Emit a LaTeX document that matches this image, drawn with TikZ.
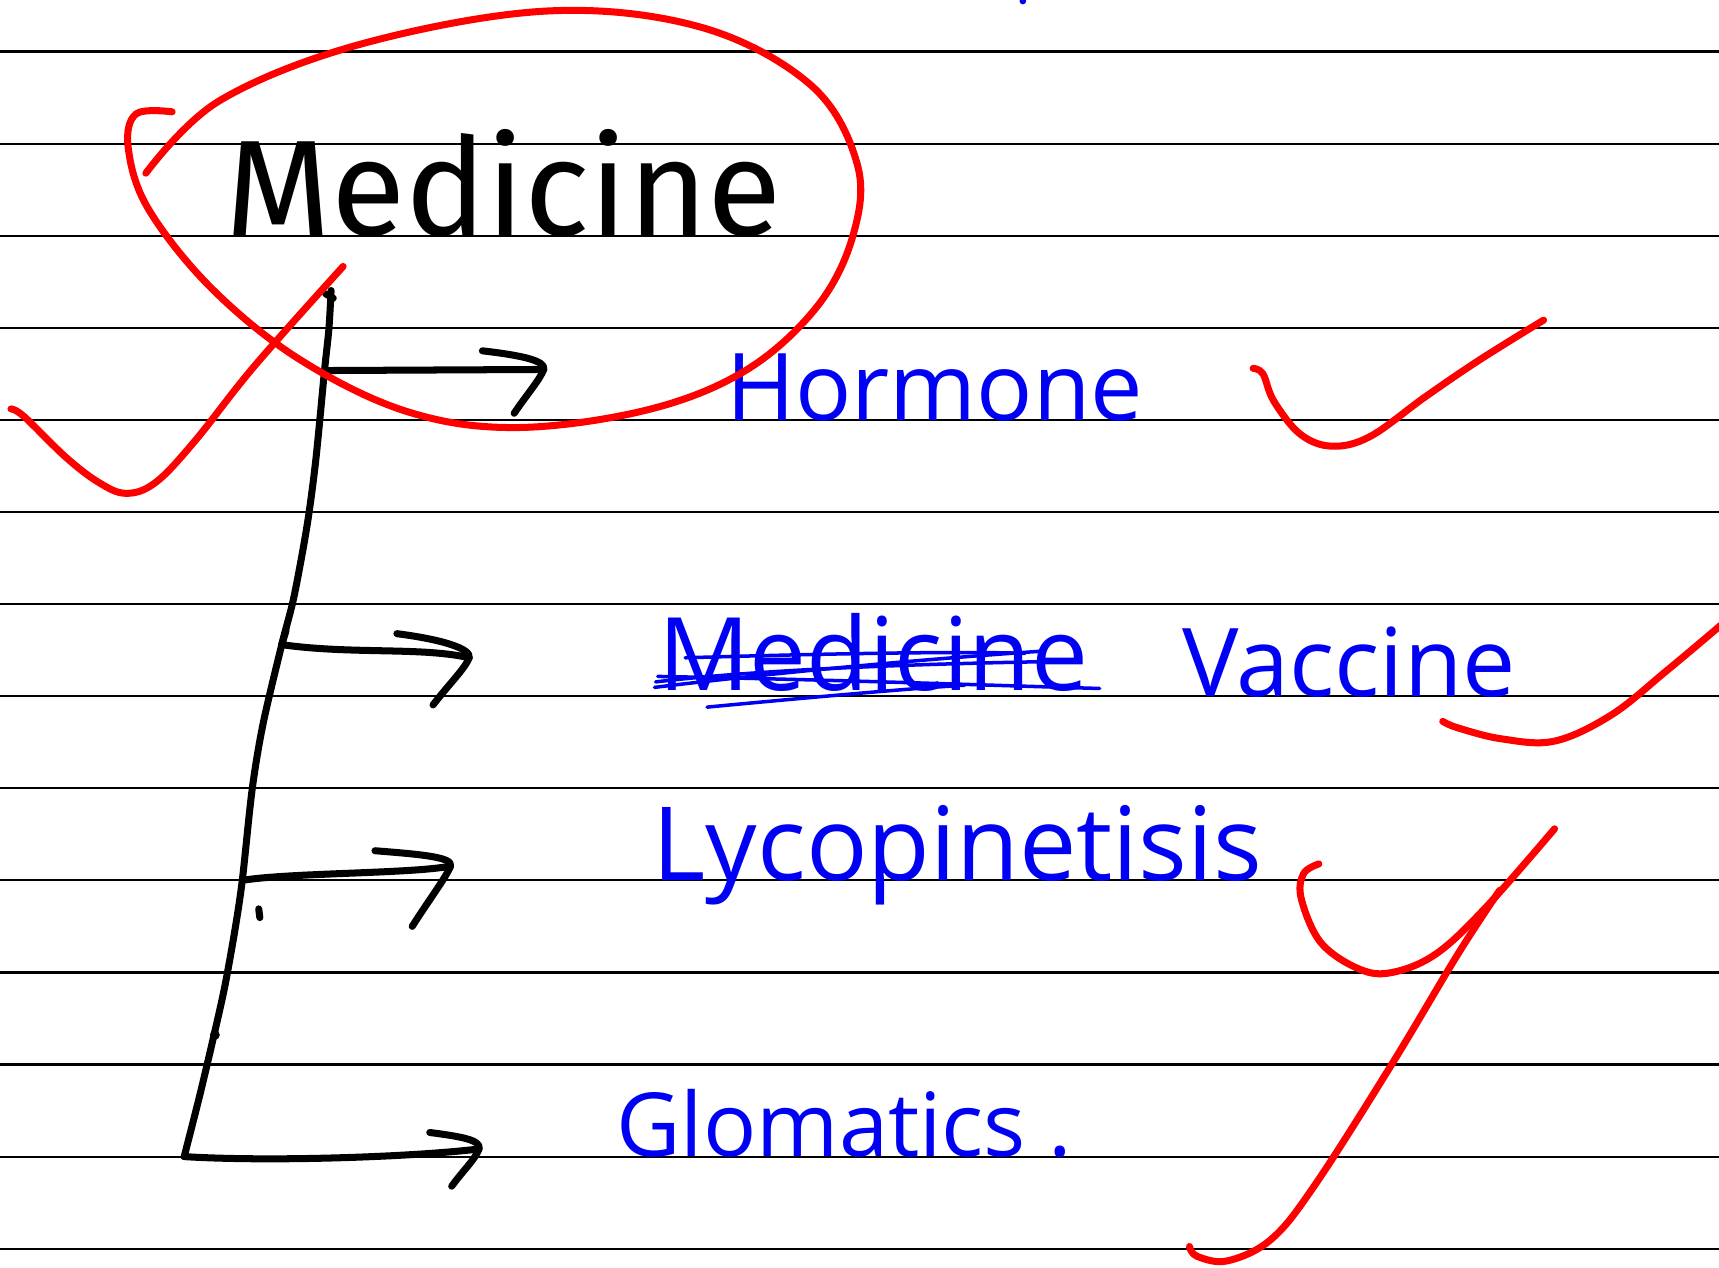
\documentclass[tikz,border=0pt]{standalone}
\usepackage{fontspec}
\setmainfont{Fira Sans}
\newfontfamily\inkblack{Fira Sans}
\newfontfamily\inkblue{Open Sans}
\usetikzlibrary{calc}
\definecolor{penred}{RGB}{255,0,0}
\definecolor{penblue}{RGB}{0,0,245}
\newcommand\fitw[2]{\resizebox{#1}{!}{#2}}
\newcommand\arrhook[5]{\draw[conn] ($(#1)+(#2,#3)$) .. controls ($(#1)+({0.35*(#2)},{0.75*(#3)})$) and ($(#1)+(2,-8)$) .. (#1) .. controls ($(#1)+(-4,10)$) and ($(#1)+({0.55*(#4)},{0.55*(#5)})$) .. ($(#1)+(#4,#5)$);}
\begin{document}
\begin{tikzpicture}[x=0.5pt,y=-0.5pt,
  rule/.style={line width=1pt,black},
  conn/.style={line width=3.2pt,black,line cap=round,line join=round},
  redink/.style={line width=3.2pt,penred,line cap=round,line join=round},
  blueink/.style={line width=1.6pt,penblue,line cap=round},
  bluetext/.style={anchor=base west,inner sep=0pt,text=penblue,font=\inkblue},
  blacktext/.style={anchor=base west,inner sep=0pt,text=black,font=\inkblack}]
\useasboundingbox (0,0) rectangle (1568,1156);
\fill[white] (0,0) rectangle (1568,1156);
% ruled paper
\foreach \yy in {47,131,215,299,383,467,551,635,719,803,887,971,1055,1139}
  \draw[rule] (0,\yy) -- (1568,\yy);
% texts
\node[blacktext] (title) at (205,215) {\fitw{254pt}{Medicine}};
\node[bluetext] (hormone) at (662,384) {\fitw{190pt}{Hormone}};
\node[bluetext] (struck) at (600,630) {\fitw{196pt}{Medicine}};
\node[bluetext] (vaccine) at (1078,635) {\fitw{152pt}{Vaccine}};
\node[bluetext] (lyco) at (595,803) {\fitw{278pt}{Lycopinetisis}};
\node[bluetext] (gloma) at (562,1055) {\fitw{208pt}{Glomatics .}};
% strike-out of the second word
\draw[blueink] (597,627) .. controls (720,612) and (860,600) .. (950,594);
\draw[blueink] (625,600) .. controls (760,596) and (880,594) .. (935,596);
\draw[blueink] (600,617) .. controls (760,620) and (900,625) .. (1003,628);
\draw[blueink] (645,645) .. controls (740,636) and (830,628) .. (880,625);
\draw[blueink] (598,622) .. controls (700,610) and (850,605) .. (985,603);
\fill[penblue] (933,1) circle (3);
% connector tree
\coordinate (top) at (302,265);
\coordinate (j1) at (296,338);
\coordinate (j2) at (257,588);
\coordinate (j3) at (221,803);
\coordinate (bot) at (168,1055);
\coordinate (a1) at (496,337);
\coordinate (a2) at (428,600);
\coordinate (a3) at (411,790);
\coordinate (a4) at (437,1048);
\draw[conn] plot[smooth,tension=0.5] coordinates {(top) (300,300) (j1) (288,420) (280,480) (268,545) (j2) (240,660) (230,720) (j3) (214,850) (205,900) (195,945) (182,1000) (bot)};
\draw[conn] (297,268) -- (304,272);
\draw[conn] (j1) -- (a1);
\draw[conn] (j2) .. controls (320,597) and (385,590) .. (a2);
\draw[conn] (j2) -- ++(4,-13);
\draw[conn] (j3) .. controls (265,796) and (375,797) .. (a3);
\draw[conn] (bot) .. controls (250,1060) and (380,1055) .. (a4);
\arrhook{a1}{-56}{-17}{-27}{40}
\arrhook{a2}{-66}{-22}{-33}{43}
\arrhook{a3}{-69}{-14}{-35}{55}
\arrhook{a4}{-45}{-15}{-25}{34}
\draw[conn] (236,829) -- (237,837);
\fill (196,944) circle (4.5);
% red marks
\draw[redink] plot[smooth,tension=0.6] coordinates {(133,158) (200,92) (330,40) (500,10) (640,25) (740,78) (782,150) (778,215) (745,280) (680,338) (590,374) (470,390) (370,375) (272,327) (192,262) (135,190) (117,135) (124,104) (157,102)};
\draw[redink] plot[smooth,tension=0.6] coordinates {(10,373) (22,380) (60,417) (90,440) (115,450) (142,440) (178,402) (232,334) (313,243)};
\draw[redink] plot[smooth,tension=0.6] coordinates {(1143,336) (1152,341) (1162,366) (1186,396) (1215,407) (1250,398) (1300,362) (1350,328) (1408,292)};
\draw[redink] plot[smooth,tension=0.6] coordinates {(1316,658) (1330,664) (1370,674) (1418,676) (1470,652) (1520,612) (1570,570)};
\draw[redink] plot[smooth,tension=0.6] coordinates {(1203,788) (1189,797) (1187,820) (1205,860) (1240,884) (1270,887) (1310,870) (1355,828) (1418,756)};
\draw[redink] plot[smooth,tension=0.6] coordinates {(1368,812) (1330,870) (1270,970) (1200,1080) (1160,1130) (1120,1150) (1092,1146) (1085,1137)};
\end{tikzpicture}
\end{document}
